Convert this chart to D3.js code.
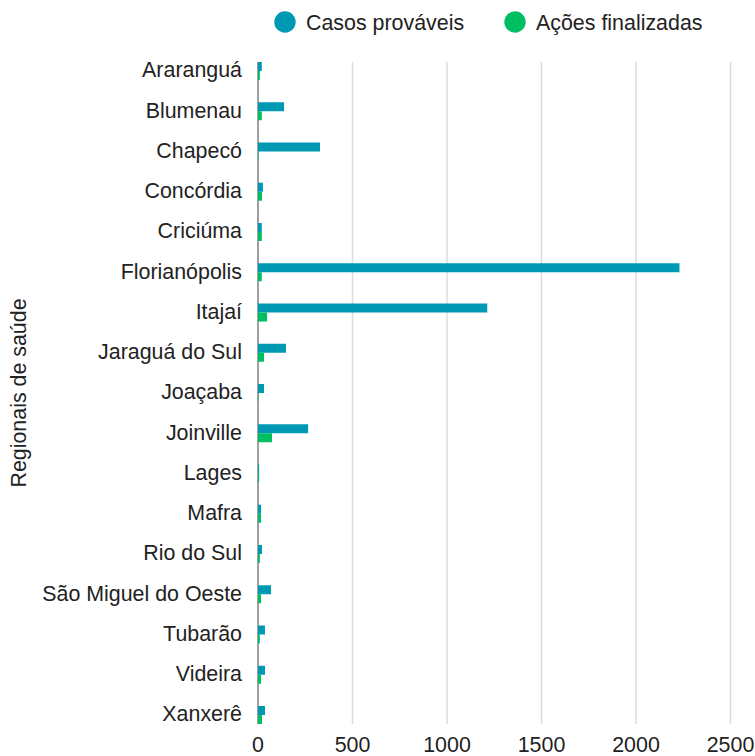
<!DOCTYPE html>
<html lang="pt">
<head>
    <meta charset="UTF-8">
    <script src="https://d3js.org/d3.v7.min.js"></script>
    <style>
        body { margin: 0; background: white; }
        text { font-family: "Liberation Sans", Arial, sans-serif; fill: #222; }
    </style>
</head>
<body>
    <svg id="chart" width="755" height="756"></svg>
    <script>
        const regionais = ["Araranguá", "Blumenau", "Chapecó", "Concórdia", "Criciúma", "Florianópolis",
            "Itajaí", "Jaraguá do Sul", "Joaçaba", "Joinville", "Lages", "Mafra", "Rio do Sul",
            "São Miguel do Oeste", "Tubarão", "Videira", "Xanxerê"];
        const casosProvaveis = [20, 138, 328, 26, 20, 2230, 1213, 148, 32, 265, 6, 16, 21, 69, 37, 37, 37];
        const acoesFinalizadas = [10, 20, 3, 21, 20, 20, 48, 32, 3, 74, 6, 16, 10, 16, 10, 16, 21];
        const xTicks = [0, 500, 1000, 1500, 2000, 2500];
        const series = ["Casos prováveis", "Ações finalizadas"];
        const colors = ["#0099B4", "#00BF63"];

        const width = 755, height = 756;
        const svg = d3.select("#chart");
        const fontSize = "21.4px";

        const data = regionais.map((r, i) => ({ r, vals: [casosProvaveis[i], acoesFinalizadas[i]] }));

        const x = d3.scaleLinear().domain([0, 2500]).range([258, 730.5]);
        const y = d3.scaleBand().domain(regionais).range([62, 724]).paddingInner(0.553).paddingOuter(0);
        const ySub = d3.scaleBand().domain([0, 1]).range([0, y.bandwidth()]);

        const plotTop = y(regionais[0]);
        const plotBottom = y(regionais[regionais.length - 1]) + y.bandwidth();

        // grid
        svg.append("g").selectAll("line")
            .data(xTicks.slice(1))
            .enter().append("line")
            .attr("x1", d => x(d)).attr("x2", d => x(d))
            .attr("y1", plotTop).attr("y2", plotBottom)
            .attr("stroke", "#dcdcdc").attr("stroke-width", 1.5);

        // axis line
        svg.append("line")
            .attr("x1", x(0)).attr("x2", x(0))
            .attr("y1", plotTop).attr("y2", plotBottom)
            .attr("stroke", "#808080").attr("stroke-width", 1.5);

        // bars
        const groups = svg.append("g").selectAll("g")
            .data(data)
            .enter().append("g")
            .attr("transform", d => `translate(0,${y(d.r)})`);
        groups.selectAll("rect")
            .data(d => d.vals)
            .enter().append("rect")
            .attr("x", x(0))
            .attr("y", (d, i) => ySub(i))
            .attr("width", d => x(d) - x(0))
            .attr("height", ySub.bandwidth())
            .attr("fill", (d, i) => colors[i]);

        // category labels
        svg.append("g").selectAll("text")
            .data(regionais)
            .enter().append("text")
            .attr("x", 242)
            .attr("y", d => y(d) + y.bandwidth() / 2 - 1)
            .attr("dy", "0.35em")
            .attr("text-anchor", "end")
            .style("font-size", fontSize)
            .text(d => d);

        // x tick labels
        svg.append("g").selectAll("text")
            .data(xTicks)
            .enter().append("text")
            .attr("x", d => x(d))
            .attr("y", 752)
            .attr("text-anchor", "middle")
            .style("font-size", fontSize)
            .text(d => d);

        // y title
        svg.append("text")
            .attr("transform", `translate(26,${(plotTop + plotBottom) / 2}) rotate(-90)`)
            .attr("text-anchor", "middle")
            .style("font-size", fontSize)
            .text("Regionais de saúde");

        // legend
        const legendX = [285, 515];
        const legend = svg.append("g").selectAll("g")
            .data(series)
            .enter().append("g")
            .attr("transform", (d, i) => `translate(${legendX[i]},22)`);
        legend.append("circle").attr("r", 10.7).attr("fill", (d, i) => colors[i]);
        legend.append("text")
            .attr("x", 21)
            .attr("dy", "0.35em")
            .style("font-size", fontSize)
            .text(d => d);
    </script>
</body>
</html>
